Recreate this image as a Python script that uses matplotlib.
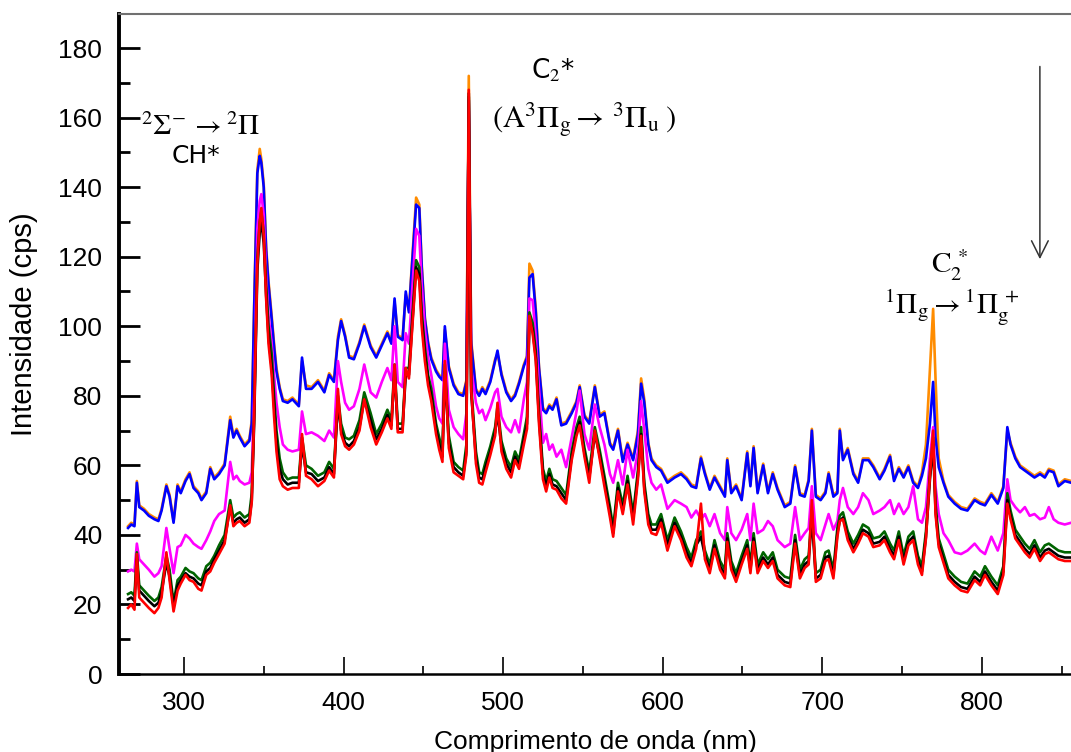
import matplotlib.pyplot as plt

# DATA
# wavelength grid, nm
wl = [265, 267, 269, 270.5, 272, 275, 278, 281.5, 284, 286,
      289, 291, 293.5, 296, 298, 301, 303.5, 306, 309, 311,
      314, 316.5, 319, 322, 325.5, 329, 331, 333, 335, 338,
      341, 342.5, 344, 346, 347.5, 348.5, 350, 351.5, 353, 355,
      356.5, 358, 360, 362, 365, 368, 372, 374, 376.5, 380,
      384, 388, 391, 394, 396.5, 398.5, 401, 403.5, 406.5, 410,
      413, 417, 420.5, 424, 427.5, 430, 432, 434, 437, 439,
      441, 443, 445.5, 447.5, 449, 451, 453, 455, 458, 460,
      462, 463.5, 466, 469, 472, 475, 477, 478.5, 480, 483,
      485, 487, 489, 492, 495, 496.5, 499, 502, 505, 507.5,
      510, 513, 515, 516.5, 518.5, 520.5, 522.5, 525, 527, 529,
      531, 533.5, 536.5, 539.5, 543, 546, 548, 551, 554, 557.5,
      560.5, 563.5, 567, 569, 572, 575, 578, 581.5, 584.5, 586.5,
      588.5, 591, 593, 596, 599, 603, 607.5, 611.5, 615, 618,
      621, 624, 626.5, 629.5, 632.5, 636, 639, 640.5, 643, 646,
      649.5, 653, 655, 657, 659.5, 663, 666, 669, 672, 676.5,
      680, 683, 686, 689, 691.5, 693.5, 696, 699, 702, 704,
      707, 709.5, 711, 713, 716, 719.5, 722.5, 725.5, 729, 732,
      736, 739, 742.5, 745, 748, 751, 754, 757, 760, 762.5,
      765, 767.5, 769.5, 771, 773, 776, 779, 783, 787, 791,
      795.5, 799, 802, 806, 810, 813.5, 816, 818, 821, 824,
      827, 830, 833, 836.5, 839.5, 842, 845, 848, 852, 856]

# upper group
blue = [42, 43, 42.5, 55, 48, 47, 45.5, 44.5, 44, 47,
        54, 51, 43.5, 54, 52, 55.5, 57.5, 53.5, 52, 50,
        52, 59, 56, 57.5, 60, 73, 68, 70, 68, 65.5,
        67, 72, 105, 144, 149, 147, 140, 122, 112, 102,
        94, 87, 82, 78.5, 78, 79, 77, 91, 82, 82,
        84, 81, 86, 84, 96, 101.5, 97, 91, 90.5, 95,
        100, 94, 91, 94.5, 98, 95, 108, 97, 96, 110,
        104, 118, 135, 134, 117, 102, 95, 90.5, 87, 85.5,
        84.5, 100, 88, 83, 80.5, 80, 84, 165, 95, 81.5,
        80, 82, 80.5, 84, 90, 93, 86, 81, 78.5, 80,
        83.5, 88.5, 91, 114, 115, 104, 88, 76, 75, 77,
        76, 79, 71.5, 72, 75, 78, 82.5, 74, 72, 82.5,
        74, 75, 66, 64.5, 70, 61, 66, 61.5, 69, 83.5,
        78, 66, 61.5, 59.5, 58.5, 55, 56.5, 57.5, 56, 54,
        53.5, 62, 57.5, 53, 56.5, 53.5, 51, 61.5, 52, 54,
        50, 63.5, 54, 65, 52, 60, 52, 57.5, 53, 48,
        49, 59.5, 51.5, 51, 55.5, 70, 51, 50, 52, 57.5,
        51, 52, 70, 61.5, 64.5, 57.5, 55, 61.5, 61.5, 59.5,
        56, 58.5, 62.5, 55.5, 59, 56.5, 59.5, 55, 53.5, 57,
        62, 72, 84, 68, 59.5, 55, 51, 49, 47.5, 47,
        50, 49, 48.5, 51.5, 49, 53.5, 71, 66, 62, 59.5,
        58.5, 57.5, 56.5, 57.5, 56.5, 58.5, 58, 54, 55.5, 55]

orange = [42.5, 43.5, 43, 55.5, 48.5, 47.5, 46, 45, 44.5, 47.5,
          54.5, 51.5, 44, 54.5, 52.5, 56, 58, 54, 52.5, 50.5,
          52.5, 59.5, 56.5, 58, 60.5, 74, 68.5, 70.5, 68.5, 66,
          67.5, 73, 106, 145, 151, 148, 141, 123, 113, 103,
          95, 88, 82.5, 79, 78.5, 79.5, 77.5, 90, 83, 82.5,
          84.5, 81.5, 86.5, 84.5, 97, 102, 97.5, 91.5, 91, 95.5,
          100.5, 94.5, 91.5, 95, 98.5, 95.5, 107, 97.5, 96.5, 109,
          104.5, 119, 137, 135, 118, 102.5, 95.5, 91, 87.5, 86,
          85, 99, 88.5, 83.5, 81, 80.5, 84.5, 172, 96, 82,
          80.5, 82.5, 81, 84.5, 90.5, 92, 86.5, 81.5, 79, 80.5,
          84, 89, 91.5, 118, 116, 105, 88.5, 76.5, 75.5, 77.5,
          76.5, 79.5, 72, 72.5, 75.5, 78.5, 83, 74.5, 72.5, 83,
          74.5, 75.5, 66.5, 65, 70.5, 61.5, 66.5, 62, 70, 85,
          79, 66.5, 62, 60, 59, 55.5, 57, 58, 56.5, 54.5,
          54, 62.5, 58, 53.5, 57, 54, 51.5, 62, 52.5, 54.5,
          50.5, 64, 54.5, 65.5, 52.5, 60.5, 52.5, 58, 53.5, 48.5,
          49.5, 60, 52, 51.5, 56, 70.5, 51.5, 50.5, 52.5, 58,
          51.5, 52.5, 70.5, 62, 65, 58, 55.5, 62, 62, 60,
          56.5, 59, 63, 56, 59.5, 57, 60, 55.5, 54, 58,
          66, 88, 105, 85, 62, 55.5, 51.5, 49.5, 48, 47.5,
          50.5, 49.5, 49, 52, 49.5, 54, 70, 66.5, 62.5, 60,
          59, 58, 57, 58, 57, 59, 58.5, 54.5, 56, 55.5]

# middle group
magenta = [29.5, 30, 29.5, 37.5, 33, 31.5, 30, 28, 29, 31,
           42, 36, 29, 36.5, 37, 40, 39, 37.5, 36.5, 36,
           38.5, 41, 44, 46, 47, 61, 56, 57, 55.5, 54.5,
           55, 58, 80, 128, 136, 138, 132, 115, 103, 95,
           86, 78, 71, 66, 64.5, 64, 64.5, 75.5, 69, 69.5,
           68.5, 67, 70, 68, 90, 84, 78, 76, 77, 82,
           89, 81, 79.5, 84, 88, 84.5, 100, 84, 82.5, 98,
           95, 110, 128, 126, 112, 99, 91, 86, 77, 73.5,
           72, 95, 76, 71, 69, 67.5, 75, 162, 88, 78,
           75, 76, 73, 76.5, 81, 82, 74, 71, 69.5, 73,
           69.5, 79, 84, 108, 107.5, 97, 82, 66.5, 69, 64.5,
           66, 62.5, 64.5, 59.5, 68, 75.5, 81.5, 69, 64.5, 77.5,
           71, 66, 57.5, 55, 61.5, 54.5, 64.5, 56.5, 64, 78.5,
           70, 59, 55, 53, 54.5, 47.5, 50, 49, 48, 45,
           47, 44.5, 46, 42.5, 46, 40.5, 38.5, 48, 40.5, 38.5,
           41.5, 46, 38.5, 49, 40.5, 41.5, 44, 42.5, 38.5, 36.5,
           37.5, 48, 38.5, 40.5, 42, 54, 40.5, 38.5, 43, 46,
           41.5, 44, 50, 53.5, 48, 46, 48, 52, 50, 46,
           47, 48, 50, 46, 49, 46, 48, 54, 44.5, 43.5,
           48, 62, 71, 54, 46, 40.5, 38.5, 35, 34.5, 35.5,
           37.5, 35.5, 34.5, 39.5, 35.5, 40.5, 56, 50, 48, 46.5,
           48, 45.5, 46, 44.5, 45, 48, 44.5, 43.5, 43, 43.5]

# lower group
darkgreen = [23, 23.5, 22.5, 35, 25.5, 24, 22.5, 21, 22, 25,
             34, 30, 20.5, 27, 28, 30.5, 29.5, 29, 27.5, 27,
             31, 32, 34, 37, 40, 50, 45, 46, 46.5, 45,
             46, 52, 75, 120, 130, 133, 127, 112, 100, 92,
             80, 70, 62, 58, 56, 56.5, 56.5, 68, 60, 59,
             57, 58, 61, 59, 80, 72, 68, 67.5, 68.5, 73,
             81, 75, 69, 72, 76, 73, 89, 72, 72, 88,
             88, 102, 119, 117, 104, 94, 86, 82, 72, 68,
             64, 89, 68.5, 61, 59.5, 58.5, 66, 166, 83, 64,
             58, 57.5, 61, 65.5, 71, 77, 67, 62, 59.5, 64,
             61.5, 69, 74, 104, 101, 93, 75, 59, 55.5, 59,
             56, 55.5, 53.5, 51.5, 64, 71, 74, 65, 58, 71,
             64.5, 57, 48, 42, 55, 48.5, 57, 46, 58.5, 71,
             55, 46, 43, 43, 46, 38.5, 45, 41, 36.5, 33.5,
             38.5, 41, 35.5, 31.5, 38.5, 32.5, 30, 40.5, 32.5, 29,
             34, 38.5, 31.5, 40.5, 31.5, 35, 33, 35, 30, 28,
             27.5, 40, 30, 33, 34, 47, 29, 30, 35, 35.5,
             30, 42, 45.5, 46.5, 41, 37.5, 40, 43, 42, 39,
             39.5, 41, 37.5, 35.5, 41, 34, 39.5, 41, 34, 31,
             41, 58, 68, 49, 39, 34.5, 30, 28, 26.5, 26,
             29.5, 28, 31, 28, 25.5, 31, 52, 47, 41.5, 39.5,
             37.5, 36, 38.5, 35, 37, 37.5, 36.5, 35.5, 35, 35]

black = [21.5, 22, 21, 33, 24, 22.5, 21, 19.5, 20.5, 23.5,
         32, 28, 19.5, 25.5, 27, 29, 28, 27.5, 26, 25.5,
         29.5, 30.5, 33, 35.5, 38.5, 48, 43.5, 44.5, 45, 43.5,
         44.5, 50, 72, 116, 127, 130, 124, 109, 97, 88,
         77, 67, 59, 56, 54.5, 55, 55, 66, 58, 57.5,
         55.5, 56.5, 59.5, 57.5, 78, 70, 66.5, 65.5, 67, 71,
         79, 73, 67.5, 70.5, 74.5, 71.5, 87, 70.5, 70.5, 86,
         86, 100, 117, 115, 102, 92, 84.5, 80, 70.5, 66,
         62.5, 87, 66.5, 59.5, 58, 57, 64, 167, 81, 62,
         56.5, 56, 59.5, 64, 69.5, 75, 65.5, 60.5, 58, 62.5,
         60, 67.5, 72, 102, 99, 91, 73.5, 57.5, 54, 57.5,
         54.5, 54, 52, 50, 62.5, 69.5, 72.5, 63.5, 56.5, 69,
         63, 55.5, 46.5, 40.5, 53.5, 47, 55.5, 44.5, 57, 69,
         53.5, 44.5, 41.5, 41.5, 44.5, 37, 43.5, 39.5, 35, 32,
         37, 39.5, 34, 30, 37, 31, 28.5, 39, 31, 27.5,
         32.5, 37, 30, 39, 30, 33.5, 31.5, 33.5, 28.5, 26.5,
         26, 38.5, 28.5, 31.5, 32.5, 45, 27.5, 28.5, 33.5, 34,
         28.5, 40.5, 44, 45, 39.5, 36, 38.5, 41.5, 40.5, 37.5,
         38, 39.5, 36, 34, 39.5, 32.5, 38, 39.5, 32.5, 29.5,
         39.5, 56, 66, 47, 37.5, 33, 28.5, 26.5, 25, 24.5,
         28, 26.5, 29.5, 26.5, 24, 29.5, 50, 45.5, 40, 38,
         36, 34.5, 37, 33.5, 35.5, 36, 35, 34, 33.5, 33.5]

red = [19, 20, 18.5, 34.5, 22, 20.5, 19, 17.5, 19, 22,
       35, 27, 18, 24, 26, 28.5, 27, 26.5, 24.5, 24,
       28.5, 29.5, 32, 34.5, 37.5, 48.5, 42.5, 43.5, 44, 42.5,
       43.5, 49.5, 74, 118, 130, 134, 126, 108, 95, 86,
       74, 64, 56, 54, 53, 53.5, 53.5, 69, 57, 56,
       54, 55.5, 58.5, 56.5, 82, 69, 65.5, 64.5, 66, 70,
       79, 71, 66, 69.5, 73.5, 70.5, 89, 69.5, 69.5, 88,
       85, 99, 116, 113, 100, 90, 83, 78.5, 69, 64.5,
       61, 90, 65, 58, 57, 56, 63, 168, 82, 60.5,
       55, 54.5, 58, 63, 68.5, 78, 64, 59, 56.5, 61.5,
       59, 66, 70.5, 103, 98, 90, 72, 56, 52.5, 56.5,
       53.5, 53, 50.5, 49, 61.5, 68.5, 71.5, 62.5, 55, 70,
       62, 54, 45, 39.5, 52.5, 46, 54.5, 43, 56, 68.5,
       52.5, 43, 40.5, 40, 43.5, 35.5, 42.5, 38.5, 33.5, 31,
       36, 49, 33, 29, 36, 30, 27.5, 38, 30, 26.5,
       31.5, 36, 29, 38, 29, 32.5, 30.5, 32.5, 27.5, 25.5,
       25, 37.5, 27.5, 30.5, 31.5, 50, 26.5, 27.5, 32.5, 33,
       27.5, 39.5, 44, 44.5, 38.5, 35, 37.5, 40.5, 39.5, 36.5,
       37, 38.5, 35, 33, 38.5, 31.5, 37, 38.5, 31.5, 28.5,
       39, 57, 70, 46, 36.5, 32, 27.5, 25.5, 24, 23.5,
       27, 25.5, 28.5, 25.5, 23, 28.5, 49, 44.5, 39, 37,
       35, 33.5, 36, 32.5, 34.5, 35, 34, 33, 32.5, 32.5]

series = [(orange, '#ff8c00'), (blue, '#0000ff'), (magenta, '#ff00ff'),
          (darkgreen, '#006400'), (black, '#000000'), (red, '#ff0000')]

for vals, col in series:
    if len(vals) != len(wl):
        raise ValueError(f"{col}: {len(vals)} values for {len(wl)} wavelengths")

# PLOT
plt.rcParams['font.family'] = ['Liberation Sans', 'DejaVu Sans']
plt.rcParams['mathtext.fontset'] = 'stix'

fig = plt.figure(figsize=(10.71, 7.52), dpi=100)
ax = fig.add_axes([0.1111, 0.1037, 0.8889, 0.8777])

for vals, col in series:
    ax.plot(wl, vals, color=col, lw=1.9)

ax.set_xlim(259.3, 855.9)
ax.set_ylim(0, 189.8)
ax.set_xticks([300, 400, 500, 600, 700, 800])
ax.set_xticks(range(350, 860, 100), minor=True)
ax.set_yticks(range(0, 181, 20))
ax.set_yticks(range(10, 190, 20), minor=True)
ax.tick_params(which='both', direction='in', labelsize=19, colors='black')
ax.tick_params(axis='y', which='major', length=15, width=2, pad=12)
ax.tick_params(axis='y', which='minor', length=8, width=2)
ax.tick_params(axis='x', which='major', length=12, width=1.2, pad=12)
ax.tick_params(axis='x', which='minor', length=6, width=1.2)

ax.spines['left'].set_linewidth(2.8)
ax.spines['bottom'].set_linewidth(1.8)
ax.spines['top'].set_color('#707070')
ax.spines['top'].set_linewidth(1.5)
ax.spines['right'].set_visible(False)

ax.set_xlabel('Comprimento de onda (nm)', fontsize=19, labelpad=11)
ax.set_ylabel('Intensidade (cps)', fontsize=21)
ax.yaxis.set_label_coords(-0.085, 0.53)

# annotations
ax.text(310.5, 157.3, r'$^{2}\Sigma^{-}\,\rightarrow{}^{2}\Pi$', fontsize=21,
        ha='center', va='center')
ax.text(307.3, 149, 'CH*', fontsize=18, family='DejaVu Sans', ha='center', va='center')
ax.text(531, 173.5, r'C$_2$*', fontsize=19, family='DejaVu Sans', ha='center', va='center')
ax.text(551, 159.5, r'$(\mathrm{A}^{3}\Pi_{\mathrm{g}}\rightarrow\,{}^{3}\Pi_{\mathrm{u}}\;)$',
        fontsize=22, ha='center', va='center')
ax.text(780, 117.5, r'$\mathrm{C}_{2}^{\;*}$', fontsize=21, ha='center', va='center')
ax.text(781, 105.5, r'${}^{1}\Pi_{\mathrm{g}}\rightarrow{}^{1}\Pi_{\mathrm{g}}^{\;+}$',
        fontsize=21, ha='center', va='center')

ax.annotate('', xy=(836.4, 118.5), xytext=(836.4, 175.5),
            arrowprops=dict(arrowstyle='->', color='#333333', lw=1.1, mutation_scale=30))

fig.savefig('out.png', dpi=100)
